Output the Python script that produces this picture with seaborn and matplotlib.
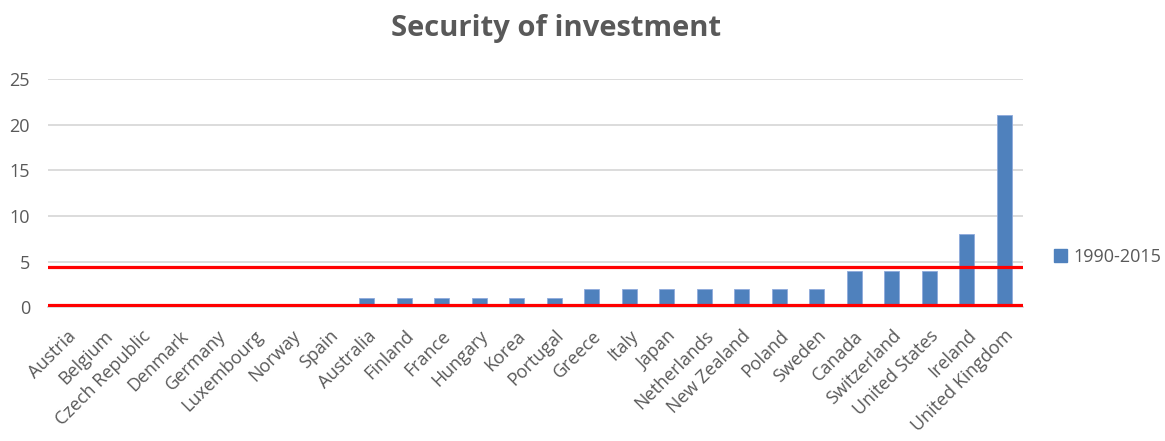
import matplotlib
matplotlib.use("Agg")
import matplotlib.pyplot as plt
import matplotlib.patches as mpatches
import seaborn as sns
import pandas as pd

countries = ["Austria", "Belgium", "Czech Republic", "Denmark", "Germany",
             "Luxembourg", "Norway", "Spain", "Australia", "Finland", "France",
             "Hungary", "Korea", "Portugal", "Greece", "Italy", "Japan",
             "Netherlands", "New Zealand", "Poland", "Sweden", "Canada",
             "Switzerland", "United States", "Ireland", "United Kingdom"]
values = [0, 0, 0, 0, 0, 0, 0, 0, 1, 1, 1, 1, 1, 1,
          2, 2, 2, 2, 2, 2, 2, 4, 4, 4, 8, 21]
series_name = "1990-2015"
threshold_levels = [4.4, 0.3]
y_ticks = [0, 5, 10, 15, 20, 25]

sns.set_style("white")
plt.rcParams["font.family"] = ["Open Sans", "DejaVu Sans"]

text_color = "#595959"
bar_color = "#4F81BD"

df = pd.DataFrame({"country": countries, "value": values})

fig = plt.figure(figsize=(11.65, 4.41), dpi=100)
ax = fig.add_axes([0.0412, 0.303, 0.8368, 0.518])

sns.barplot(data=df, x="country", y="value", color=bar_color, width=0.4,
            saturation=1, edgecolor="#8FAADC", linewidth=0.6, ax=ax, zorder=3)

ax.set_xlim(-0.5, len(countries) - 0.5)
ax.set_ylim(0, 25)
ax.set_yticks(y_ticks)
ax.yaxis.grid(True, color="#D9D9D9", linewidth=1.3, zorder=0)
ax.set_axisbelow(True)
for s in ["top", "right", "left"]:
    ax.spines[s].set_visible(False)
ax.spines["bottom"].set_color("#D9D9D9")
ax.spines["bottom"].set_linewidth(1.3)

for lvl in threshold_levels:
    ax.axhline(lvl, color="#FF0000", linewidth=2.3, zorder=5)

ax.set_xlabel("")
ax.set_ylabel("")
ax.tick_params(axis="both", length=0, colors=text_color, labelsize=13)
ax.tick_params(axis="y", pad=13)
ax.tick_params(axis="x", pad=14)
plt.setp(ax.get_xticklabels(), rotation=45, ha="right", rotation_mode="anchor")

fig.text(0.477, 0.935, "Security of investment", ha="center", va="center",
         fontsize=21, fontweight="bold", color=text_color)

handle = mpatches.Patch(color=bar_color, label=series_name)
leg = fig.legend(handles=[handle], loc="center left",
                 bbox_to_anchor=(0.891, 0.418), frameon=False,
                 fontsize=13, handlelength=0.7, handleheight=0.7,
                 handletextpad=0.35, labelcolor=text_color)

fig.savefig("out.png", dpi=100)
